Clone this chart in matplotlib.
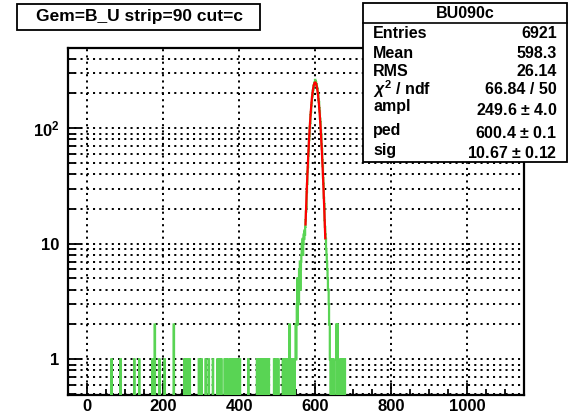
import numpy as np
import matplotlib
matplotlib.use("Agg")
import matplotlib.pyplot as plt
from matplotlib.patches import Rectangle
from matplotlib.lines import Line2D

plt.rcParams['font.family'] = ['Liberation Sans', 'DejaVu Sans']
plt.rcParams['font.weight'] = 'bold'
plt.rcParams['mathtext.fontset'] = 'custom'
plt.rcParams['mathtext.rm'] = 'Liberation Sans:bold'
plt.rcParams['mathtext.bf'] = 'Liberation Sans:bold'
plt.rcParams['mathtext.it'] = 'Liberation Sans:italic:bold'
plt.rcParams['lines.scale_dashes'] = False

# ---------------- data ----------------
title_text = "Gem=B_U strip=90 cut=c"
hist_name = "BU090c"
bin_lo, bin_hi = -50, 1150  # 1 unit per bin

# isolated noise entries (position, count)
noise_x = [64, 88, 124, 137, 172, 178, 190, 204, 228, 256, 258, 262, 266, 270,
           294, 301, 312, 320, 331, 343, 346, 349, 353, 362, 365, 367, 373,
           379, 381, 386, 388, 391, 395, 402, 424, 447, 449, 452, 457, 461,
           464, 467, 472, 476, 478, 492, 498, 503]
noise_n = [1, 1, 1, 1, 1, 2, 1, 1, 2, 1, 1, 1, 1, 1,
           1, 1, 1, 1, 1, 1, 1, 1, 1, 1, 1, 1, 1,
           1, 1, 1, 1, 1, 1, 1, 1, 1, 1, 1, 1, 1,
           1, 1, 1, 1, 1, 1, 1, 1]

# dense region + peak, consecutive bins starting at 515
peak_start = 515
peak_counts = [1, 0, 1, 1, 0, 1, 1, 0, 1, 0, 1, 1, 0, 1, 1, 0, 1, 2, 2, 1,
               0, 1, 1, 0, 1, 0, 1, 1, 1, 0, 1, 0, 1, 1,
               2, 1, 2, 3, 5, 2, 4, 5, 3, 6, 5, 7, 4, 6, 7, 8, 10, 9, 11, 8,
               10, 12, 11, 13, 12, 14, 16, 19, 21, 28, 33, 42, 46, 58, 64, 79,
               86, 103, 111, 130, 138, 158, 166, 186, 193, 212, 216, 233, 235,
               248, 244, 262, 255, 250, 239, 238, 224, 219, 203, 196, 177, 169,
               149, 140, 121, 113, 96, 88, 72, 66, 53, 47, 37, 33, 25, 22, 16,
               14, 12, 11, 9, 8, 7, 6, 5, 4, 4, 3, 2, 2, 1, 1, 0, 1, 1, 0, 1,
               1, 0, 1, 0, 0, 0, 0, 0, 0, 0, 2, 1, 0, 2, 1, 0, 0, 0, 0, 0, 0,
               1, 0, 1, 1, 0, 1, 1, 0, 1, 1, 0, 1]

# fit result
fit_ampl, fit_ped, fit_sig = 249.6, 600.4, 10.67
fit_range = (575, 627)

stat_labels = ["Entries", "Mean", "RMS", r"$\chi^{2}$ / ndf", "ampl", "ped", "sig"]
stat_values = ["6921", "598.3", "26.14", "66.84 / 50",
               r"249.6 $\pm$ 4.0", r"600.4 $\pm$ 0.1", r"10.67 $\pm$ 0.12"]

x_ticks = [0, 200, 400, 600, 800, 1000]
y_ticks = [1, 10, 100]
y_ticklabels = ["1", "10", r"$10^{2}$"]

# ---------------- build histogram ----------------
edges = np.arange(bin_lo, bin_hi + 1)
counts = np.zeros(len(edges) - 1)
for xv, n in zip(noise_x, noise_n):
    counts[xv - bin_lo] += n
for i, n in enumerate(peak_counts):
    counts[peak_start + i - bin_lo] += n
plot_counts = np.where(counts > 0, counts, 1e-3)

W, H = 569, 417
fig = plt.figure(figsize=(W / 100, H / 100), dpi=100)
L, R, B, T = 68, 524, 395, 48
ax = fig.add_axes([L / W, 1 - B / H, (R - L) / W, (B - T) / H])
ax.set_yscale('log')
ax.set_xlim(bin_lo, bin_hi)
ax.set_ylim(0.49, 495)

green = '#59d454'
ax.stairs(plot_counts, edges, color=green, lw=1.6, baseline=None, zorder=3)

xf = np.linspace(fit_range[0], fit_range[1], 300)
yf = fit_ampl * np.exp(-0.5 * ((xf - fit_ped) / fit_sig) ** 2)
ax.plot(xf, yf, color='#ff0000', lw=1.6, zorder=4)

# grid
dots = (0, (1.5, 3.0))
for xv in x_ticks:
    ax.axvline(xv, color='black', lw=1.4, ls=dots, zorder=1)
gy = []
for dec in [0.1, 1, 10, 100]:
    for m in range(1, 10):
        v = m * dec
        if 0.49 < v < 495:
            gy.append(v)
for v in gy:
    ax.axhline(v, color='black', lw=1.4, ls=dots, zorder=1)

# ticks
ax.set_xticks(x_ticks)
ax.set_xticklabels([str(v) for v in x_ticks])
ax.set_xticks(np.arange(-50, 1151, 50), minor=True)
ax.set_yticks(y_ticks)
ax.set_yticklabels(y_ticklabels)
ax.yaxis.set_minor_locator(matplotlib.ticker.FixedLocator([v for v in gy if v not in y_ticks]))
ax.yaxis.set_minor_formatter(matplotlib.ticker.NullFormatter())
ax.tick_params(axis='x', which='major', direction='in', length=8.5, width=1.3, labelsize=12, pad=3)
ax.tick_params(axis='x', which='minor', direction='in', length=4.3, width=1.3)
ax.tick_params(axis='y', which='major', direction='in', length=10, width=1.3, labelsize=12, pad=6)
ax.tick_params(axis='y', which='minor', direction='in', length=5, width=1.3)
ax.tick_params(top=False, right=False, which='both')
for lab in ax.get_xticklabels() + ax.get_yticklabels():
    lab.set_fontweight('bold')
for s in ax.spines.values():
    s.set_linewidth(1.6)

def fx(px):
    return px / W

def fy(py):
    return 1 - py / H

# title box
fig.patches.append(Rectangle((fx(17), fy(30)), fx(260) - fx(17), fy(4) - fy(30),
                             transform=fig.transFigure, fill=True, facecolor='white',
                             edgecolor='black', lw=1.3, zorder=10))
fig.text(fx(139), fy(17), title_text, ha='center', va='center', fontsize=12.5,
         fontweight='bold', zorder=11)

# stats box
fig.patches.append(Rectangle((fx(363), fy(162)), fx(567) - fx(363), fy(3) - fy(162),
                             transform=fig.transFigure, fill=True, facecolor='white',
                             edgecolor='black', lw=1.3, zorder=10))
fig.lines.append(Line2D([fx(363), fx(567)], [fy(23), fy(23)], transform=fig.transFigure,
                        color='black', lw=1.2, zorder=11))
fig.text(fx(465), fy(13), hist_name, ha='center', va='center', fontsize=11.5,
         fontweight='bold', zorder=11)
lab_y = [34, 53, 71, 89, 106, 131, 151]
val_y = [34, 53, 71, 90, 110, 133, 153]
for lab, val, ly, vy in zip(stat_labels, stat_values, lab_y, val_y):
    fig.text(fx(373), fy(ly), lab, ha='left', va='center', fontsize=11.5,
             fontweight='bold', zorder=11)
    fig.text(fx(557), fy(vy), val, ha='right', va='center', fontsize=11.5,
             fontweight='bold', zorder=11)

fig.savefig('out.png', dpi=100)
